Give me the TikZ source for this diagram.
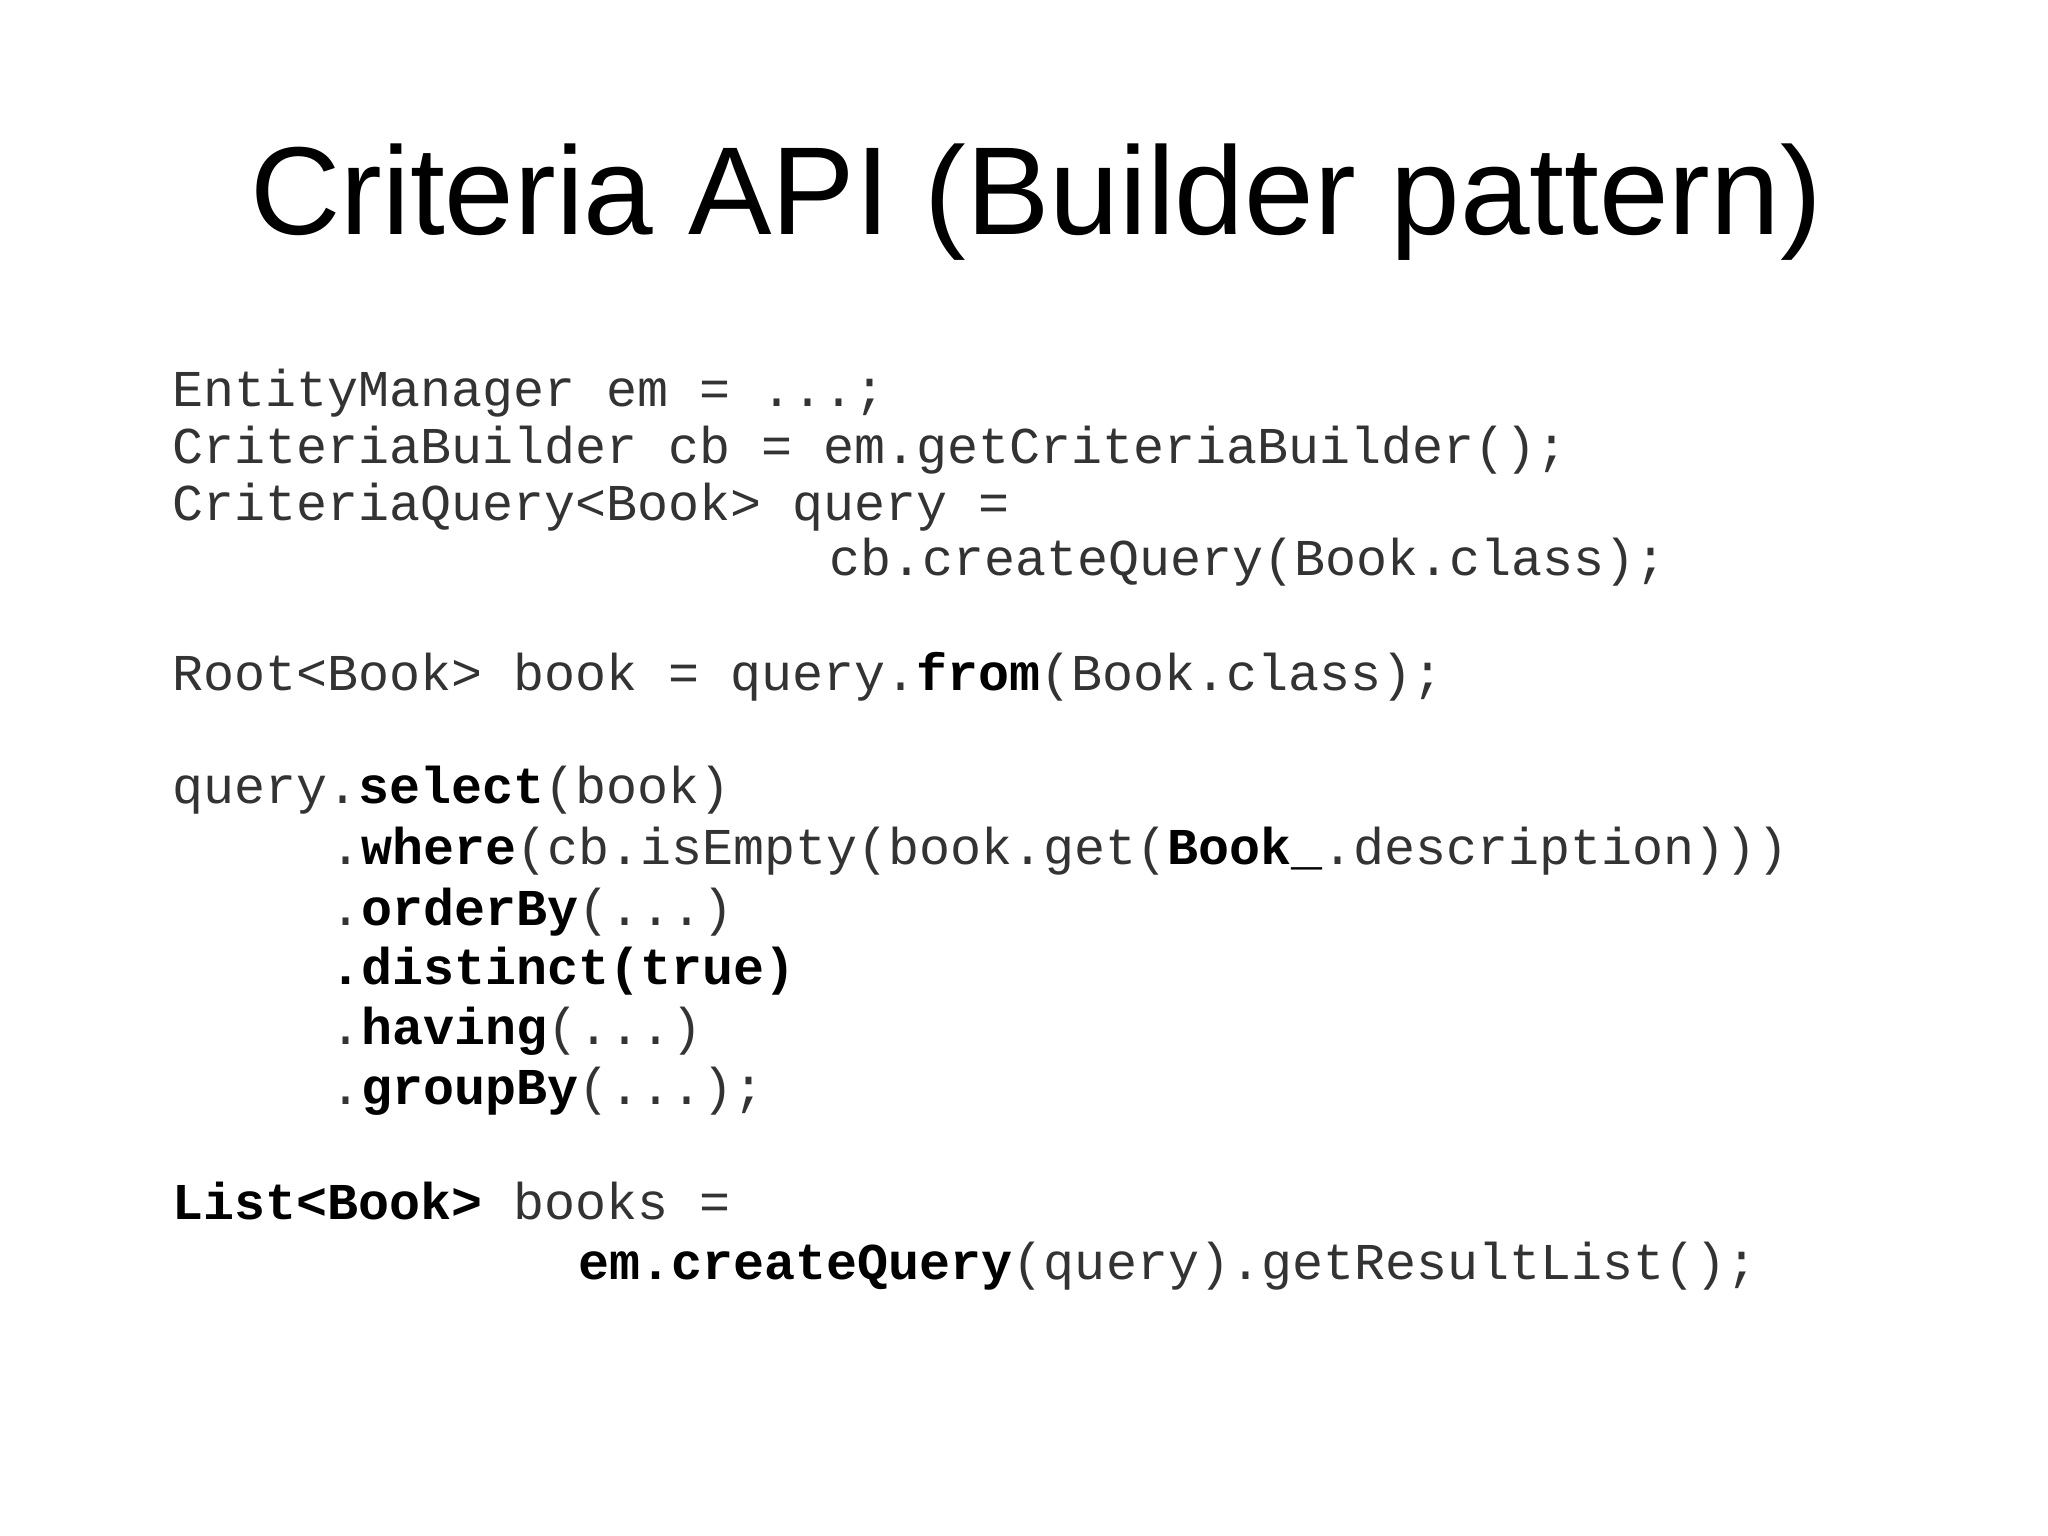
\documentclass[tikz,border=0pt]{standalone}
\usepackage{fontspec}
\setmainfont{Liberation Sans}
\setmonofont{Liberation Mono}
\definecolor{codegray}{HTML}{333333}
\begin{document}
\begin{tikzpicture}[x=0.0132cm,y=-0.0132cm,
  code/.style={anchor=base west,inner sep=0pt,font=\fontsize{14.7pt}{17pt}\ttfamily,text=codegray},
  b/.style={}]
\useasboundingbox (0,0) rectangle (1551.5,1162.9);
\fill[white] (0,0) rectangle (1551.5,1162.9);
\node[anchor=base,inner sep=0pt,font=\fontsize{35.6pt}{40pt}\selectfont] (title) at (785,178) {Criteria API (Builder pattern)};
\newcommand{\bb}[1]{\textcolor{black}{\bfseries #1}}
\node[code] (l1) at (130,308) {EntityManager em = ...;};
\node[code] (l2) at (130,351) {CriteriaBuilder cb = em.getCriteriaBuilder();};
\node[code] (l3) at (130,394) {CriteriaQuery<Book> query =};
\node[code] (l4) at (628,436) {cb.createQuery(Book.class);};
\node[code] (l5) at (130,523) {Root<Book> book = query.\bb{from}(Book.class);};
\node[code] (l6) at (130,609) {query.\bb{select}(book)};
\node[code] (l7) at (250,655) {.\bb{where}(cb.isEmpty(book.get(\bb{Book\_}.description)))};
\node[code] (l8) at (250,701) {.\bb{orderBy}(...)};
\node[code] (l9) at (250,746) {\bb{.distinct(true)}};
\node[code] (l10) at (250,791) {.\bb{having}(...)};
\node[code] (l11) at (250,837) {.\bb{groupBy}(...);};
\node[code] (l12) at (130,924) {\bb{List<Book>} books =};
\node[code] (l13) at (438,969) {\bb{em.createQuery}(query).getResultList();};
\end{tikzpicture}
\end{document}
